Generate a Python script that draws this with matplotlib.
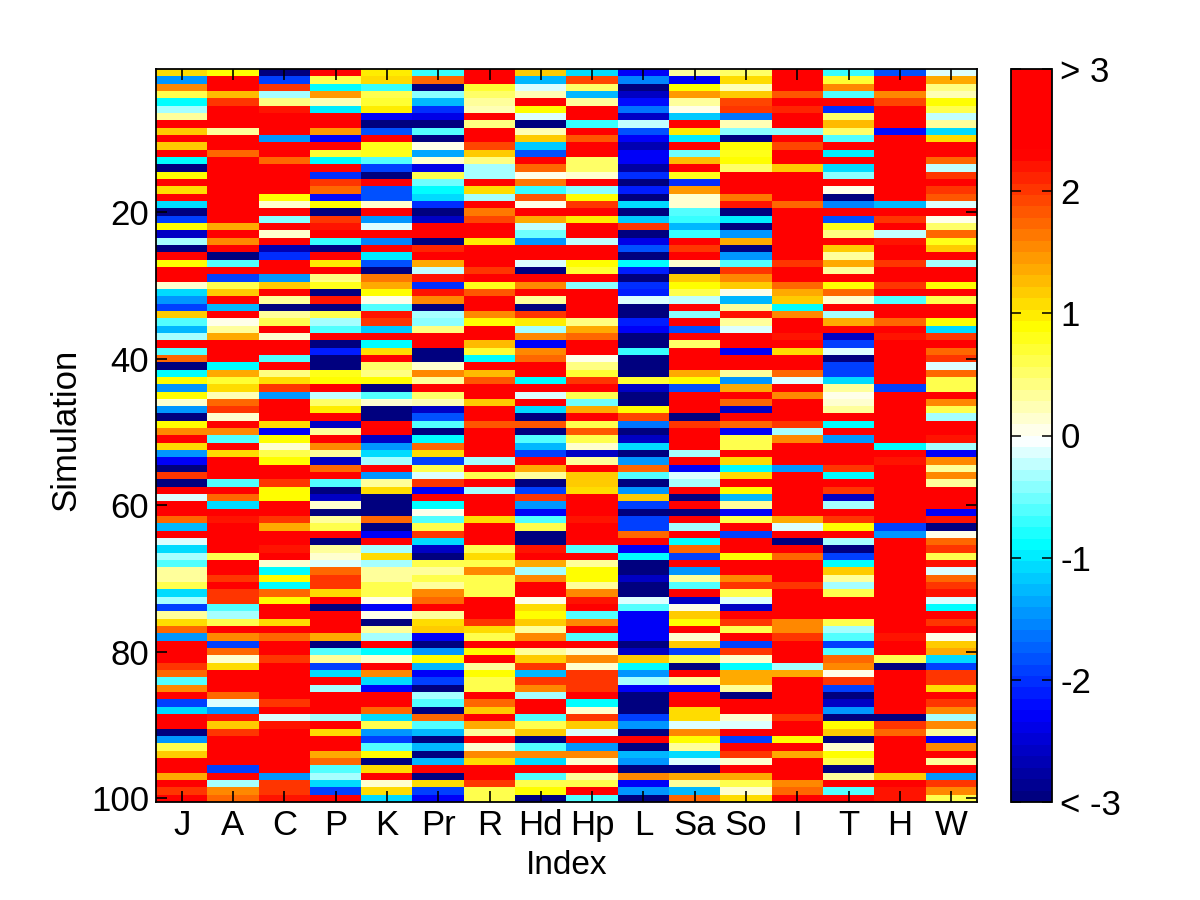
import numpy as np
import matplotlib
matplotlib.use("Agg")
import matplotlib.pyplot as plt
from matplotlib.colors import LinearSegmentedColormap

plt.rcParams['font.family'] = ['Liberation Sans', 'DejaVu Sans']

# index names along x
index_names = ["J", "A", "C", "P", "K", "Pr", "R", "Hd", "Hp", "L", "Sa", "So", "I", "T", "H", "W"]

# values, one list per index, simulation 1 to 100
J = [1.05,-1.5,1.5,.6,-.9,-.35,.35,2.8,1.2,2.8,1.2,2.8,-.9,-3,.88,2.8,1.05,2.8,-1.05,-3,-1.9,.88,-2.6,-.35,-3,
     2.8,.88,2.8,2.8,.12,-1.05,-1.5,-1.9,1.2,-.6,-1.25,-.35,2.8,-.6,1.75,-3,-.9,.88,-1.5,.88,.12,-1.5,-3,.88,1.5,
     2.8,1.05,-1.5,-2.3,-3,2,-3,2.8,-.15,2.8,2.8,1.75,-1.25,2.8,-.15,-1.05,-.35,-.6,.35,.35,.6,-1.05,-.35,-1.9,.35,
     1.05,1.75,-1.5,2.8,2.8,2.8,2,1.75,-.6,1.5,2.8,-1.9,-1.05,2.8,2.8,-3,-1.5,.6,1.2,2.8,2.8,1.35,2.8,2,2.8]
A = [.88,2.8,2.8,1.25,2,2.8,2.8,2.8,.3,2.8,2.8,1.7,2.8,2.8,2.8,2.8,2.8,2.8,2.8,2.8,2.8,1.4,2.8,1.5,2.8,
     -3,-.6,2.8,-1.9,.6,1.2,2.8,-1.25,2.8,0,.35,1.35,2.8,2.8,2.8,-.9,1.35,.7,1.05,.2,1.7,2,.12,2.8,1.5,
     -.6,2.8,1.05,2.8,2.8,2.8,-.6,2.8,1.75,-1.05,2.8,2.2,2.8,2.8,2.8,2.8,.6,2.8,2.8,2,2.8,2,2,-.6,-.35,
     .6,2.8,1.5,-1.9,1.75,.12,1.05,2.8,2.8,2.8,1.75,-.15,-1.5,2.2,1.2,2,2.8,2.8,2.8,2.8,-1.9,2.8,-.35,1.5,1.75]
C = [-3,-1.9,2,-.35,.4,2.2,2.8,2.8,2.8,-1.5,2.8,2.8,1.75,2.8,2.8,2.8,2.8,.88,.15,2.8,-.45,2.8,.12,2.8,-2.7,
     -2,2.8,2.8,-1.5,1.2,2.8,.35,-3,.35,.6,2.8,.12,2.8,2.8,-.6,2.8,.4,1.1,2,-1.5,2.8,2.8,2.8,1.05,-2.3,
     .88,.12,.6,.88,2.8,2.8,2,.88,.88,2.8,2.8,2,1.35,2.8,2.8,2.2,2.8,.12,-.9,.88,-.9,1.75,.88,2.8,2.8,
     1.05,2.8,1.75,2.8,2.8,2,2.8,2.8,2.8,2.8,2.8,2,2.8,-.15,2.2,2.8,2.8,2.8,2.8,2.8,2.8,-1.5,2,2,2.2]
P = [2.8,.65,-.9,1.45,.25,-.95,2.8,2.8,1.45,-2.3,2.8,.7,-.9,2.3,-2.05,2.05,1.75,-2.25,.9,-3,2,2.2,2.8,-.75,-3,
     2.8,1,2.8,.4,.75,-3,2.2,-3,.65,-.35,-.6,2.8,-3,-2.15,-3,-3,.75,.85,2.8,-.2,.55,.95,2.8,-2.6,.35,
     2.8,1.5,.35,-2.6,1.75,2.8,-.6,-3,-2.6,.12,-3,.35,.6,2.8,-3,.35,.12,-.15,1.75,2,2,1.05,2.8,-3,2.8,
     2.8,2.8,1.35,-3,-.6,.35,-1.9,-1.05,2.8,-.35,2.8,2.8,2.8,-.35,2.8,1.05,2.8,2.8,1.35,1.75,-.6,-.35,-1.05,-1.9,2.8]
K = [1,1.1,-.75,.65,.7,1,-2.3,-3,-1.85,2.8,.8,.8,-.6,-1.95,-3,2.8,-1.85,-1.85,.1,2.8,-1.5,-.1,2.8,-1.55,2.8,
     -1,-1.85,-3,1.6,1.35,.9,0,-.65,2.2,2,-1.2,2.8,-.9,1.05,2.8,.5,.4,.9,-3,-.65,.12,-3,-3,2.3,2.8,
     -2.6,-1.5,-1.05,-.35,2.8,-1.5,.35,1.05,-3,-3,-3,1.75,-3,-2.3,2.8,-.35,1.05,-.35,.35,.35,.6,.6,0,-2.3,0,
     -3,.35,-.35,2.8,-.9,.12,2.8,1.5,-1.05,-2.3,2.8,2.8,1.75,-1.05,.6,-1.5,-1.9,-.6,.88,-3,1.05,2.8,.12,1.05,-1.05]
Pr = [-.75,1.75,-3,-.4,-1.25,-2.05,-2.35,-3,-.6,-3,0,-1.4,.12,-2.35,.6,-.55,-.9,-1.05,-2.05,-3,-2.6,2.8,2.8,-3,2.1,
      2.8,1.35,-.25,2.2,-2,2.2,1.5,-3,-.3,-.4,.4,2.8,2.8,-3,-3,.12,1.5,.3,2.8,.55,.25,-2.6,-1.85,-.6,-3,
      -.9,1.75,1.05,-1.9,.6,-.15,2,-2.3,2.8,-.9,0,-.6,.6,2,-1.05,-2.6,-3,.6,.35,.6,.35,1.5,1.75,2.8,.35,
      1.05,1.2,-2.3,-3,-1.5,.88,-1.25,-2.3,-1.9,-3,-.35,-.6,-3,1.75,-.6,-1.25,-3,-1.25,-3,-1.25,2.8,-3,1.05,-1.9,-2.3]
R = [2.8,2.8,.7,.55,.3,.2,2.8,.45,2.8,2.8,1.95,1.2,.4,-.35,-.35,2.8,1.05,-.35,2.8,1.6,1.95,2.8,2.8,1,2.8,
     2.8,2.8,2,2.8,.75,1.8,2.8,2.8,1.5,.85,2.8,2.8,1.3,.7,-.9,2.8,1.25,1.8,2.8,2.8,1.15,2.8,2.8,1.8,2.8,
     2.8,2.8,2.8,-.35,2.8,.6,2.8,-.35,2.8,2.8,2.8,1.05,2.8,2.8,2.8,.6,1.05,.6,1.5,.6,.6,.6,2.8,2.8,2.8,
     2,1.05,.6,2.8,.88,2.8,.35,.88,.6,.6,2.8,1.75,1.2,2.8,1.35,.35,2.8,.12,1.5,1.05,2.8,2.8,2,.6,.6]
Hd = [1.2,-1.25,-.12,.25,2.25,.9,-.15,-3,.2,1.2,-1.2,-1.85,2.8,1.7,0,1.6,-.7,1.8,0,2.8,1.4,-.25,-.55,-1.5,2.8,
      2.8,-.12,-3,2.8,1.55,2.8,.3,-3,2,.95,-.3,1.55,-2.3,1.55,1.75,2.8,2.8,-.9,2.8,-.12,2.8,-1.05,-3,1.8,-3,
      -.6,-1.25,-1.9,2.8,1.35,.35,-3,-1.9,2,-1.5,-2.3,-.6,.6,-3,-3,2.2,2.8,1.35,-.35,1.5,2.8,2.8,0,1.05,.88,
      1.2,.35,1.5,2.8,.35,1.2,2,-1.25,2,1.5,-.35,2.8,2.8,-.6,.6,1.2,-3,-.6,1.5,-1.05,2.8,-.6,.6,.88,-3]
Hp = [-1.1,1.95,.55,-1.25,.35,2.8,2.8,-.7,2.8,1.85,2.8,2.8,.5,.5,.15,2.8,-.45,.85,2,2.8,1,2.8,2.8,-.2,2.8,
      2.8,.9,.7,2.8,-.4,2.8,2.8,2.8,2.8,.45,1.35,1.75,2.8,2.8,0,.4,.7,2.05,2.8,.6,-.55,1.35,2.8,.65,1.8,
      .6,.12,-2.6,.35,2.8,1.2,1.2,1.05,2.8,2.8,2.8,2.2,2.8,2.8,2.8,-.6,2.8,.35,.88,.88,.35,1.5,2.2,2.8,-.6,
      1.5,2.8,-.6,2.8,.12,1.5,.12,2,2,2,2.8,-.9,.12,2,1.2,-.15,2.8,-1.5,1.5,.12,2.8,.35,.6,2.8,-.6]
L = [-2.3,-1.55,-3,-2.55,-2.25,-1.6,-2.6,-.25,-1.8,-2.3,-2.7,-2.3,-2.3,-2.8,-2.05,-3,-2.15,-3,-1.05,-3,-1.2,2.05,-3,-2.35,-1.85,
     -3,-.9,-2.1,-3,-2,-2.1,-.12,-3,-3,-2.1,-2.3,-3,-3,-.7,-3,-3,-3,.7,-2.6,-3,-3,.9,1.9,-1.6,-3,
     -2.6,-1.05,-3,-1.5,1.75,-.6,-3,-1.5,1.2,-1.9,-3,-1.9,-1.9,1.75,2.8,-2.3,-.9,-3,-3,-2.6,-3,-3,-.15,-.6,-2.3,
     -2.3,-2.3,-2.3,-3,-2.6,1.2,-.9,-1.5,-.35,-2.3,-3,-3,-3,-1.9,-1.5,-3,2.8,-3,-1.25,-1.5,-3,1.5,-2.3,-1.5,-3]
Sa = [.35,-2.3,.85,1.45,.35,0,-1.2,2.8,1,-.95,2.8,-.55,1.3,2.8,.8,-2.05,1.45,.1,.1,-.65,-.7,-1.3,-.7,2.8,2.05,
      2.7,.1,-3,1.2,.85,.6,-.2,2.6,-.4,2.6,-1.85,2.6,.5,2.6,2.6,2.6,1.35,.9,-1.85,2.6,2.6,2.6,-3,2.05,2.6,
      2.8,2.8,-.35,2.8,-2.3,-.15,-.35,2.8,-3,2.8,-3,2.8,-.35,2.8,-.9,1.75,-1.9,2.8,-1.5,.35,-.6,2.8,-2.6,0,1.2,
      .88,2.8,.12,1.2,-1.9,.6,-3,2.8,.35,-2.3,2.8,2.8,1.05,1.05,-.15,1.5,.88,.35,-1.05,-.15,-3,1.35,.35,-1.25,1.75]
So = [.5,1.05,.2,1.2,1.9,2.05,-1.6,.2,-.4,-3,.85,.8,.9,.5,2.8,2.8,2.8,1.6,2.2,-3,-.95,-3,-1.5,1.35,-3,
      -1.5,-.6,2,1.5,1.2,0,-1.25,.35,2.2,.35,-.15,2.8,2.8,-2.3,2.8,2.8,.35,-1.5,1.35,2.8,1.75,-2.6,2.8,1.75,-2.3,
      .6,.6,2.8,1.05,-.9,1.05,2.8,.88,-1.25,.35,-2.3,.6,2.8,-1.9,2.8,2.8,.88,2.8,2.8,1.5,2,.6,-.15,-2.6,2.8,
      2,.6,2.8,-1.9,2,.12,-.9,1.35,1.35,.35,-3,2.8,2.8,.12,-.15,2.8,-1.9,2.8,2,.12,2.8,1.35,.6,.12,1.05]
I = [2.8,2.8,2.8,1.8,2.8,2.1,2.8,2.8,-.4,2.8,1.95,2.8,2.8,1.2,2.8,2.8,2.8,2.8,1.7,2.8,2.8,2.8,2.8,2.8,2.8,
     2.8,2,2.8,2.8,1.75,1.35,1.2,-.9,1.5,2.8,2.8,2.2,2.8,1.05,2.8,2.8,1.75,-.15,2.8,1.5,2.8,2.8,2.8,2,-.35,
     1.5,2.8,2.8,2.8,-1.5,2.8,2.8,2.8,2.8,2.8,2.8,1.35,-.15,2.8,-3,2.8,1.75,2.8,2.8,2.8,2,2.8,2.8,2.8,2.8,
     1.5,1.5,2,2.8,2.8,2.8,-.35,1.35,2.8,2.8,2.8,2.8,2.8,2,2.8,2.8,.88,2.8,1.35,2.8,2.8,2.8,1.5,1.75,2.8]
T = [-.7,.7,1.5,-.6,2.3,-2.05,.5,1.3,.5,-.65,2.8,-.95,2.8,-1.1,-.45,2.8,.05,-3,-1.55,2.8,-1.85,.8,.45,2.25,1.2,
     .35,1.35,.35,2.8,.88,1.75,.12,2.8,-.35,1.35,2.8,-2.6,-1.9,-.15,-3,-1.9,-1.9,-1.05,.35,0,.12,.35,2.8,-.9,2.8,
     -1.5,2.8,2.8,2.8,2,-.9,2.8,2,-2.6,-.35,2.8,2,.88,2.8,-.35,-3,-1.9,-.9,1.2,.35,-.35,.6,2.8,2.8,2.8,
     .6,-.35,-.6,-1.9,-.6,1.75,1.5,0,2,-1.9,-3,-2.6,-1.5,-3,.88,1.2,-3,.12,.88,.6,-3,.35,2.8,-.6,2.8]
H = [-1.85,2.8,2.8,1.5,1.95,2.8,2.8,2.8,-2.2,2.8,2.8,2.8,2.8,2.8,2.8,2.8,2.8,2.8,-1.25,2.8,2.05,2.8,-.2,2.2,2.8,
     2.8,2,2.8,2.8,2,2.8,-.6,2.8,2.8,1.75,2.8,2.2,2.8,2.8,2.8,2.8,2.8,2.8,-1.9,2.8,2.8,2.8,2.8,2.8,2.8,
     2.8,-.9,2.4,2.2,2.8,2.8,2.8,2.8,2.8,2.8,2.8,2.8,-1.9,-1.5,2.8,2.8,2.8,2.8,2.8,2.8,2.8,2.8,2.8,2.8,2.8,
     2.8,2.8,2.2,2.8,2.8,.6,-3,2.8,2.8,2.8,2.8,2.8,2.8,-3,2,1.75,2.8,2.8,2.8,2.8,2.8,1.2,2.8,2.2,2.2]
W = [-.15,1.4,.45,.2,.9,.6,-.25,.35,-1.1,1.05,2.8,2.3,1.7,-.2,2.05,2.8,2,1.8,-.15,2.8,0,.55,1.75,.8,1.2,
     2.8,-.35,2.8,2.8,.88,2.8,.6,2.8,2.8,.88,-1.05,2,2.8,1.75,2,-.15,1.75,.6,.6,2.8,1.5,.6,-.35,2.8,2.8,
     2.2,-.35,-2.3,1.5,.35,1.5,.35,2.8,2.8,2.8,-2.3,2.2,-3,0,1.75,2,.6,2.2,-.15,1.75,2,2.2,-.15,-.9,2.8,
     2,2.8,0,1.2,1.35,-1.05,-1.9,2,2,1.05,2.8,2,1.5,-.35,1.5,.35,-2.3,1.5,2.8,.35,2.8,-1.5,2,1.5,.6]

cbar_labels = ["< -3", "-2", "-1", "0", "1", "2", "> 3"]

data = np.array([J, A, C, P, K, Pr, R, Hd, Hp, L, Sa, So, I, T, H, W]).T

# jet running through white at zero, saturated near the ends, 64 steps
anchors = [(-3.0, (0, 0, 0.5)), (-2.3, (0, 0, 1)), (-0.9, (0, 1, 1)), (-0.03, (1, 1, 1)),
           (0.9, (1, 1, 0)), (2.35, (1, 0, 0)), (3.0, (1, 0, 0))]
cmap = LinearSegmentedColormap.from_list(
    "jet_white", [((v + 3) / 6, c) for v, c in anchors], N=64)

W_PX, H_PX = 1200, 900
fig = plt.figure(figsize=(12, 9), dpi=100, facecolor="white")
ax = fig.add_axes([156 / W_PX, 1 - 802 / H_PX, 821 / W_PX, 733 / H_PX])
cax = fig.add_axes([1011 / W_PX, 1 - 802 / H_PX, 41 / W_PX, 733 / H_PX])

im = ax.imshow(data, cmap=cmap, vmin=-3, vmax=3, aspect="auto", interpolation="nearest",
               extent=(0.5, 16.5, 100.5, 0.5))

ax.set_xticks(np.arange(1, 17))
ax.set_xticklabels(index_names)
ax.set_yticks([20, 40, 60, 80, 100])
ax.tick_params(direction="in", top=True, right=True, length=8, width=1.2, labelsize=25, pad=5)
ax.set_xlabel("Index", fontsize=24, labelpad=6)
ax.set_ylabel("Simulation", fontsize=25, labelpad=6, y=0.507)
for s in ax.spines.values():
    s.set_linewidth(1.3)

cb = fig.colorbar(im, cax=cax)
cb.set_ticks([-3, -2, -1, 0, 1, 2, 3])
cb.set_ticklabels(cbar_labels)
cax.tick_params(direction="in", left=True, right=True, length=7, width=1.1, labelsize=25, pad=6)
cb.outline.set_linewidth(1.3)

fig.savefig("out.png", dpi=100)
